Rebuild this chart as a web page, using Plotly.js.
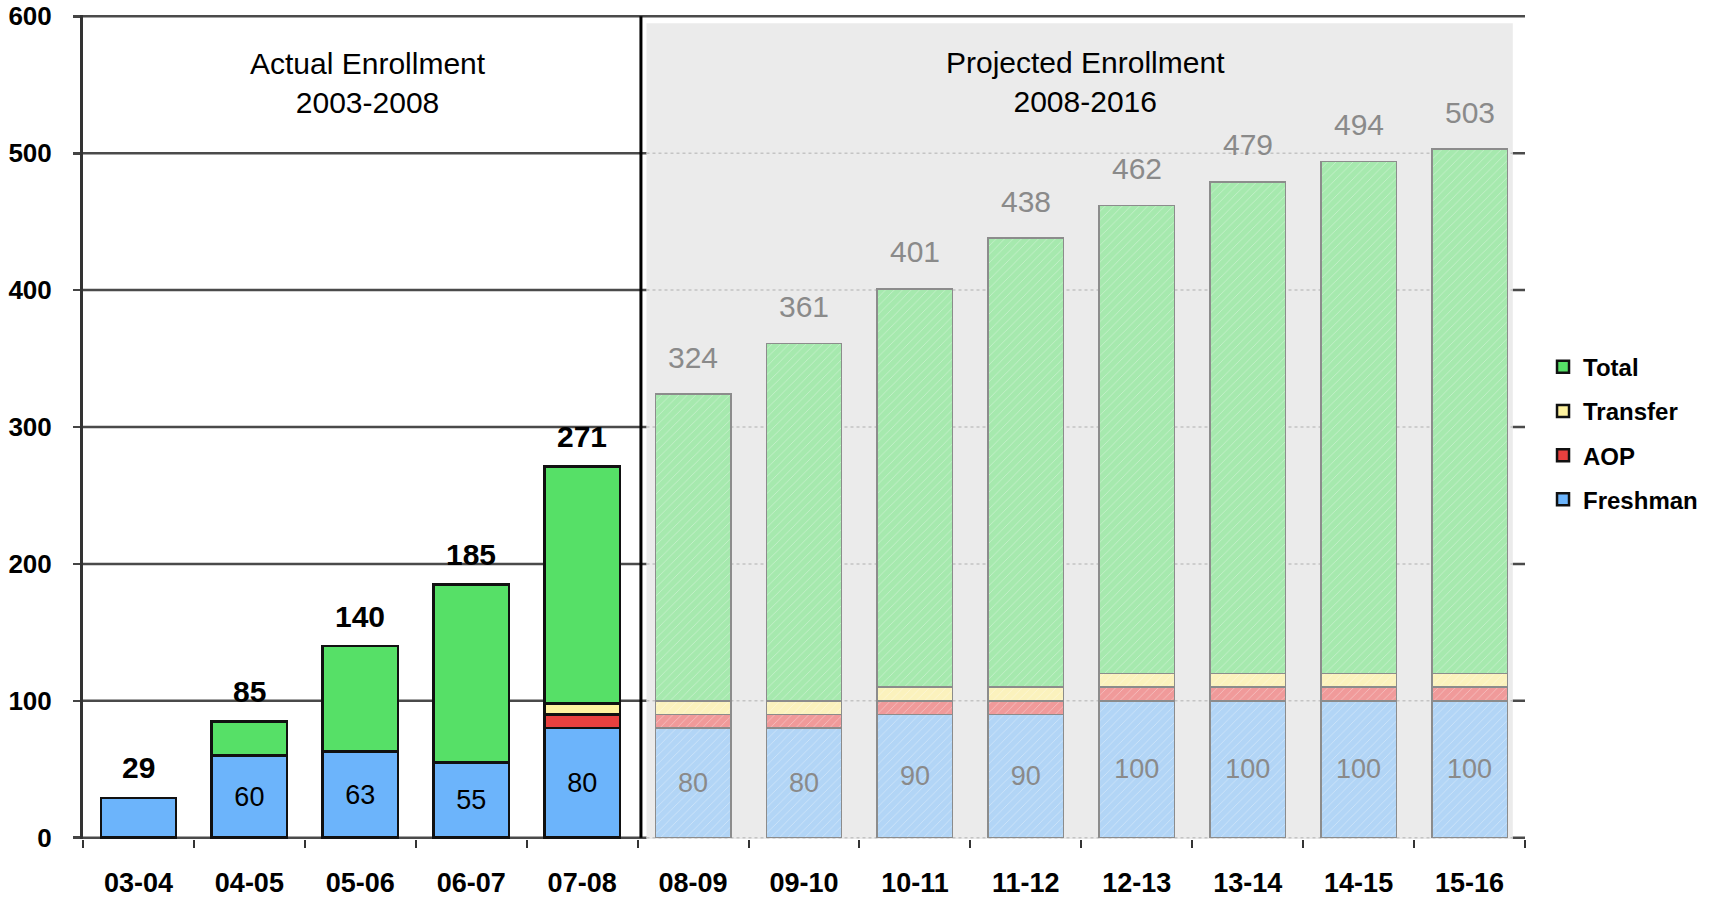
<!DOCTYPE html>
<html>
<head>
<meta charset="utf-8">
<script src="https://cdn.plot.ly/plotly-3.0.1.min.js"></script>
<style>html,body{margin:0;padding:0;background:#fff;}#chart{width:1712px;height:897px;}</style>
</head>
<body>
<div id="chart"></div>
<script>
const categories = ['03-04','04-05','05-06','06-07','07-08','08-09','09-10','10-11','11-12','12-13','13-14','14-15','15-16'];
const freshman = [29, 60, 63, 55, 80, 80, 80, 90, 90, 100, 100, 100, 100];
const aop      = [0, 0, 0, 0, 10, 10, 10, 10, 10, 10, 10, 10, 10];
const transfer = [0, 0, 0, 0, 8, 10, 10, 10, 10, 10, 10, 10, 10];
const totals   = [29, 85, 140, 185, 271, 324, 361, 401, 438, 462, 479, 494, 503];
const nActual = 5;
const yTicks = [0, 100, 200, 300, 400, 500, 600];
const seriesNames = ['Freshman', 'AOP', 'Transfer', 'Total'];

const FONT = 'Liberation Sans, Arial, sans-serif';
const remainder = totals.map((t, i) => t - freshman[i] - aop[i] - transfer[i]);
const seriesVals = [freshman, aop, transfer, remainder];
const actualColors = ['#6cb4fb', '#e8403f', '#fff3a0', '#56e067'];
const projColors = ['#b2d5f6', '#f09a9a', '#fbf2bd', '#a6e9ae'];
const freshText = freshman.map((f, i) => f === totals[i] ? '' : String(f));

const actCats = categories.slice(0, nActual);
const projCats = categories.slice(nActual);
const nz = v => (v === 0 ? null : v);

const data = [];
seriesNames.forEach((name, s) => {
  const vals = seriesVals[s];
  const rank = seriesNames.length - s;
  const a = {
    type: 'bar', name: name, legendgroup: name, legendrank: rank, showlegend: true,
    x: actCats, y: vals.slice(0, nActual).map(nz),
    marker: {color: actualColors[s], line: {color: '#111', width: 2.5}},
    hoverinfo: 'skip'
  };
  const p = {
    type: 'bar', name: name, legendgroup: name, legendrank: rank, showlegend: false,
    x: projCats, y: vals.slice(nActual).map(nz),
    marker: {color: projColors[s], line: {color: '#8c8c8c', width: 1.5},
      pattern: {shape: '/', fillmode: 'overlay', bgcolor: projColors[s], fgcolor: '#ffffff',
                fgopacity: 0.35, size: 6, solidity: 0.15}},
    hoverinfo: 'skip'
  };
  if (s === 0) {
    a.text = freshText.slice(0, nActual);
    p.text = freshText.slice(nActual);
    [a, p].forEach((t, k) => {
      t.textposition = 'inside';
      t.insidetextanchor = 'middle';
      t.constraintext = 'none';
      t.textangle = 0;
      t.textfont = {family: FONT, size: 27, color: k === 0 ? '#000' : '#8a8a8a'};
    });
  } else {
    a.textposition = 'none';
    p.textposition = 'none';
  }
  data.push(a, p);
});

const annotations = totals.map((t, i) => ({
  x: categories[i], y: t, xref: 'x', yref: 'y', text: String(t), showarrow: false,
  yanchor: 'middle', yshift: i < nActual ? 30 : 37,
  font: i < nActual ? {family: FONT, size: 30, color: '#000', weight: 'bold'}
                    : {family: FONT, size: 30, color: '#8a8a8a'}
}));
annotations.push({
  x: 2.07, y: 551, xref: 'x', yref: 'y', showarrow: false, yanchor: 'middle',
  text: 'Actual Enrollment<br>2003-2008', font: {family: FONT, size: 30, color: '#000'}
});
annotations.push({
  x: 8.54, y: 552, xref: 'x', yref: 'y', showarrow: false, yanchor: 'middle',
  text: 'Projected Enrollment<br>2008-2016', font: {family: FONT, size: 30, color: '#000'}
});

const grayX0 = nActual - 0.5 + 0.08;
const grayX1 = categories.length - 0.5 - 0.11;
const shapes = [];
yTicks.forEach(v => shapes.push({type: 'line', layer: 'between', xref: 'paper', yref: 'y',
  x0: 0, x1: 1, y0: v, y1: v, line: {color: '#4a4a4a', width: 2.5}}));
shapes.push({type: 'rect', layer: 'between', xref: 'x', yref: 'y', x0: grayX0, x1: grayX1,
  y0: -1, y1: 595, fillcolor: '#ebebeb', line: {width: 0}});
yTicks.slice(0, -1).forEach(v => shapes.push({type: 'line', layer: 'between', xref: 'x', yref: 'y',
  x0: grayX0, x1: grayX1, y0: v, y1: v, line: {color: '#c4c4c4', width: 1.5, dash: 'dot'}}));
shapes.push({type: 'line', layer: 'between', xref: 'x', yref: 'y',
  x0: nActual - 0.5 + 0.03, x1: nActual - 0.5 + 0.03, y0: 0, y1: 600, line: {color: '#000', width: 3}});

const layout = {
  width: 1712, height: 897,
  margin: {l: 83, r: 187, t: 15, b: 58},
  paper_bgcolor: '#fff', plot_bgcolor: '#fff',
  barmode: 'stack', bargap: 0.32,
  showlegend: true,
  legend: {xref: 'container', yref: 'container', x: 0.9013, xanchor: 'left', y: 0.6158, yanchor: 'top',
    traceorder: 'grouped', tracegroupgap: 10,
    font: {family: FONT, size: 24, color: '#000', weight: 'bold'},
    bgcolor: 'rgba(0,0,0,0)'},
  xaxis: {type: 'category', categoryarray: categories, range: [-0.5, categories.length - 0.5],
    showgrid: false, zeroline: false, showline: false,
    ticks: 'outside', tickson: 'boundaries', ticklen: 8, tickwidth: 2, tickcolor: '#333',
    ticklabelstandoff: 25,
    tickfont: {family: FONT, size: 27, color: '#000', weight: 'bold'}, fixedrange: true},
  yaxis: {range: [-1, 601], tickvals: yTicks, showgrid: false, zeroline: false,
    showline: true, linecolor: '#333', linewidth: 3,
    ticks: 'outside', ticklen: 7, tickwidth: 2.5, tickcolor: '#444', ticklabelstandoff: 16,
    tickfont: {family: FONT, size: 26, color: '#000', weight: 'bold'}, fixedrange: true},
  shapes: shapes,
  annotations: annotations
};

Plotly.newPlot('chart', data, layout, {displayModeBar: false, staticPlot: true});
</script>
</body>
</html>
